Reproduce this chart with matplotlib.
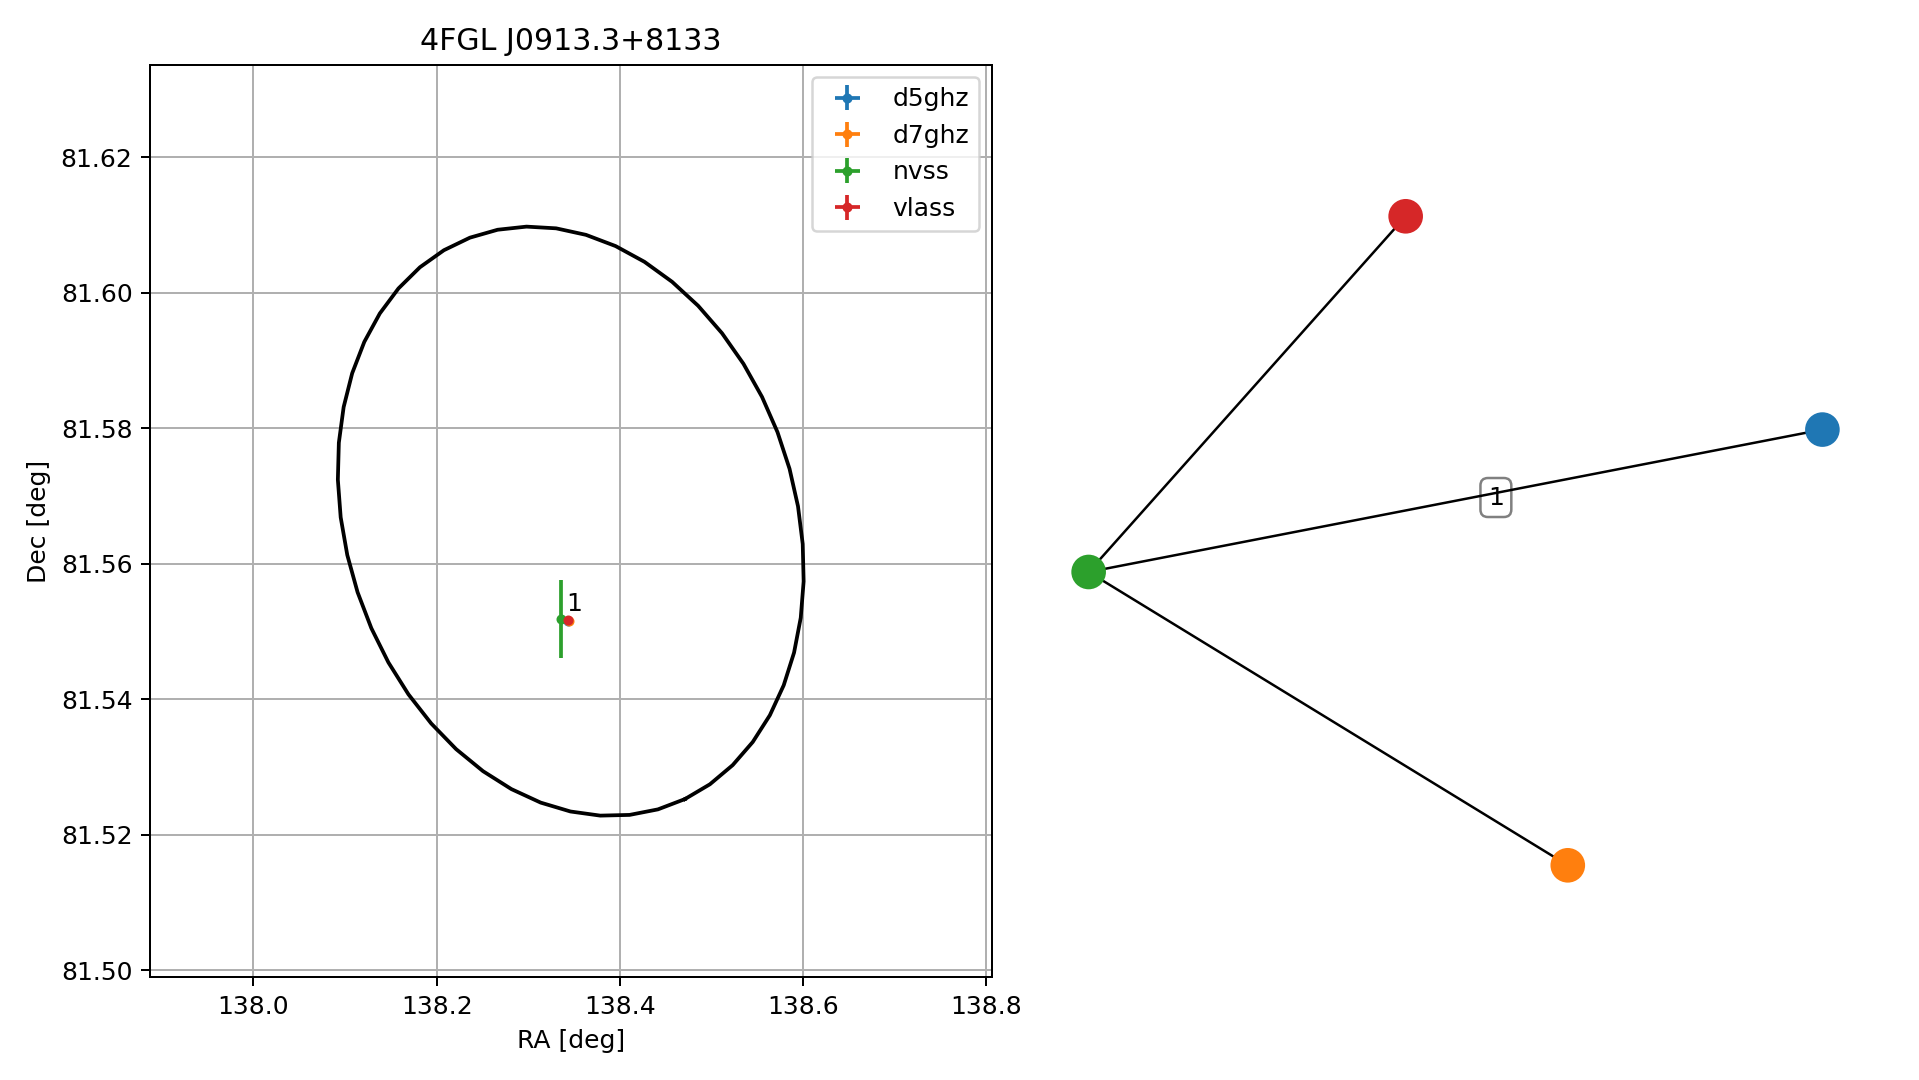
import numpy as np
import matplotlib
matplotlib.use("Agg")
import matplotlib.pyplot as plt

# ---------------- data ----------------
title = "4FGL J0913.3+8133"
# 4FGL 95% error ellipse (deg)
ell_ra0 = 138.3463
ell_dec0 = 81.5663
ell_a = 0.0449
ell_b = 0.0356
ell_pa = 156.0  # deg, north through east

catalogs = ["d5ghz", "d7ghz", "nvss", "vlass"]
colors = ["#1f77b4", "#ff7f0e", "#2ca02c", "#d62728"]
src_ra = [138.3430, 138.3440, 138.3360, 138.3433]
src_dec = [81.5516, 81.5516, 81.5519, 81.5517]
src_ra_err = [0.0005, 0.0005, 0.0010, 0.0005]
src_dec_err = [0.0003, 0.0003, 0.0058, 0.0003]

match_label = "1"
match_label_ra = 138.3418
match_label_dec = 81.5531

xticks = [138.0, 138.2, 138.4, 138.6, 138.8]
yticks = [81.50, 81.52, 81.54, 81.56, 81.58, 81.60, 81.62]

# association graph (layout coordinates)
graph_nodes = ["d5ghz", "d7ghz", "nvss", "vlass"]
node_x = [0.8621, 0.2590, -0.8759, -0.1250]
node_y = [0.2009, -0.7541, -0.1112, 0.6684]
graph_edges = [("nvss", "vlass", ""), ("nvss", "d5ghz", "1"), ("nvss", "d7ghz", "")]
edge_label_pos = 0.555

# ---------------- figure ----------------
DPI = 180
fig = plt.figure(figsize=(1919 / DPI, 1080 / DPI), dpi=DPI)

ax = fig.add_axes([0.07817, 0.09491, 0.43851, 0.84491])
ax.set_title(title)

t = np.linspace(0, 2 * np.pi, 50)
pa = np.deg2rad(ell_pa)
dx = ell_a * np.cos(t) * np.sin(pa) + ell_b * np.sin(t) * np.cos(pa)
dy = ell_a * np.cos(t) * np.cos(pa) - ell_b * np.sin(t) * np.sin(pa)
cosd = np.cos(np.deg2rad(ell_dec0))
ax.plot(ell_ra0 + dx / cosd, ell_dec0 + dy, color="k", lw=1.5)

for name, c, ra, dec, rae, dece in zip(catalogs, colors, src_ra, src_dec,
                                       src_ra_err, src_dec_err):
    ax.errorbar([ra], [dec], xerr=[rae], yerr=[dece], fmt=".", color=c,
                label=name)

ax.text(match_label_ra, match_label_dec, match_label, fontsize=10)

r = 1.5 * ell_a
ax.set_xlim(ell_ra0 - r / cosd, ell_ra0 + r / cosd)
ax.set_ylim(ell_dec0 - r, ell_dec0 + r)
ax.set_xticks(xticks)
ax.set_yticks(yticks)
ax.set_xlabel("RA [deg]")
ax.set_ylabel("Dec [deg]")
ax.grid(True)
ax.legend(loc="upper right")

# ---------------- graph ----------------
ax2 = fig.add_axes([0.54, 0.09491, 0.44, 0.84491])
ax2.set_axis_off()
ax2.set_xlim(-1, 1)
ax2.set_ylim(-1, 1)
pos = {n: (x, y) for n, x, y in zip(graph_nodes, node_x, node_y)}
for u, v, lab in graph_edges:
    (x1, y1), (x2, y2) = pos[u], pos[v]
    ax2.plot([x1, x2], [y1, y2], color="k", lw=1.0, zorder=1)
    if lab:
        lx = x1 + edge_label_pos * (x2 - x1)
        ly = y1 + edge_label_pos * (y2 - y1) - 0.01
        ax2.text(lx, ly, lab, ha="center", va="center", fontsize=10, zorder=0.5,
                 bbox=dict(boxstyle="round", ec="gray", fc="white"))
ax2.scatter(node_x, node_y, s=165, c=[colors[catalogs.index(n)] for n in graph_nodes],
            zorder=2)

fig.savefig("out.png", dpi=DPI)
